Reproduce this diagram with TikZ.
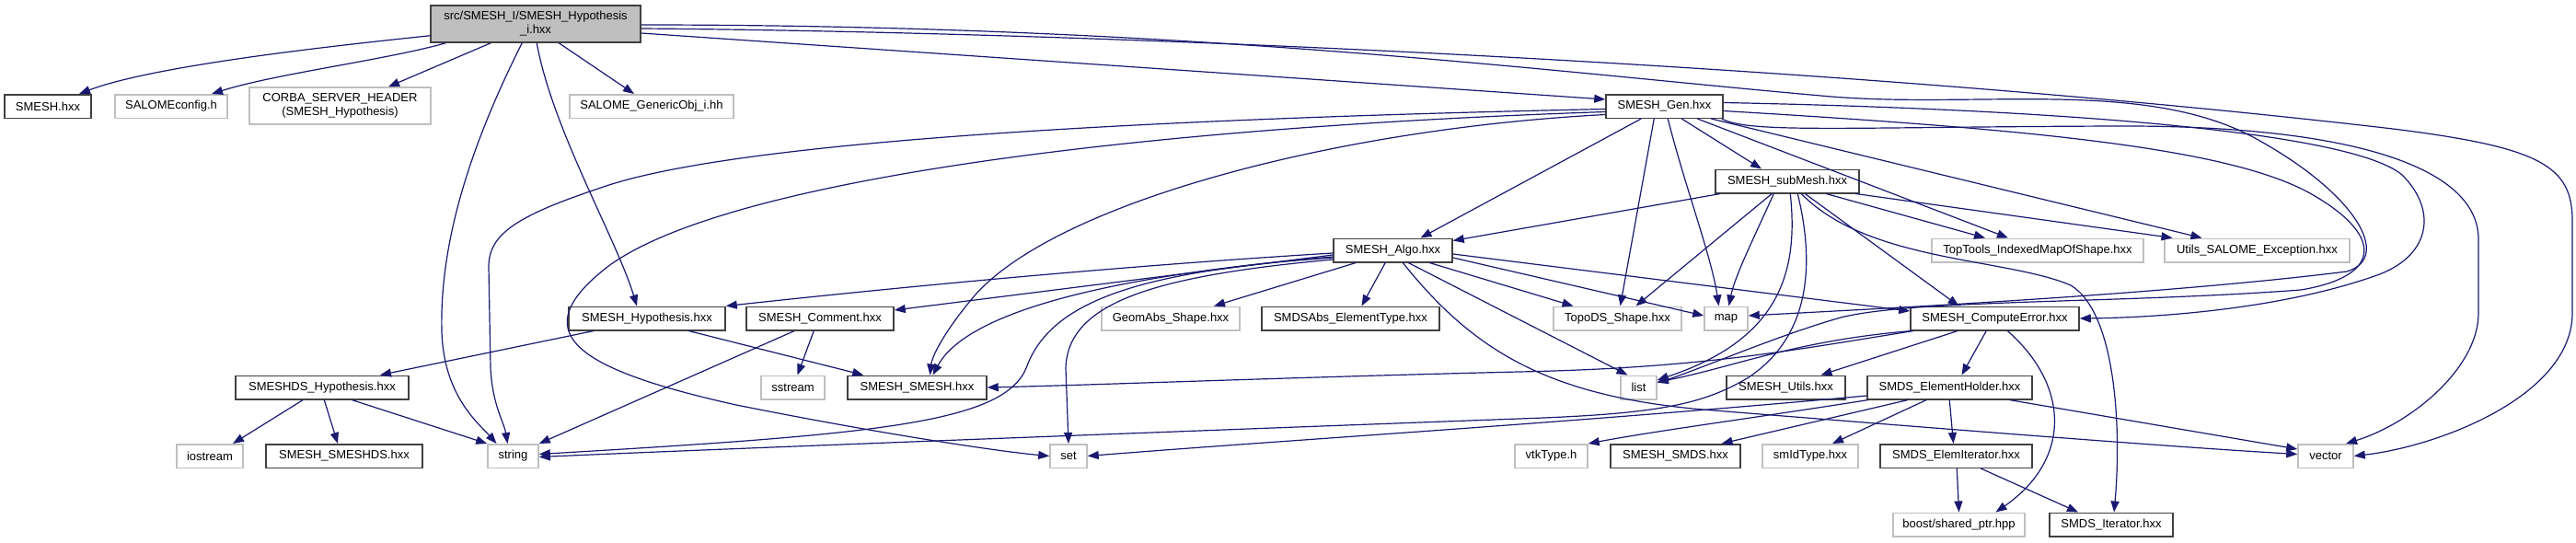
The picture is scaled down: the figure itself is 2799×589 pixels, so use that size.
\documentclass[tikz,border=0pt]{standalone}
\usepackage{fontspec}
\setmainfont{Liberation Sans}
\usetikzlibrary{arrows.meta}
\definecolor{edgec}{HTML}{191970}
\definecolor{grayb}{HTML}{BFBFBF}
\definecolor{darkb}{HTML}{404040}
\newcommand\nfont{\fontsize{13}{15}\selectfont}
\begin{document}
\begin{tikzpicture}[x=1pt,y=-1pt,
  nb/.style={draw=darkb, line width=1.5pt, fill=white, inner sep=0pt, minimum height=25.5pt, align=center, font=\nfont},
  ng/.style={nb, draw=grayb},
  nr/.style={nb, fill=grayb, minimum height=40pt},
  ed/.style={draw=edgec, line width=1.2pt, -{Triangle[length=12pt,width=9pt]}}]
\fill[white] (0,0) rectangle (2799,589);
\useasboundingbox (0,0) rectangle (2799,589);
% nodes
\node[nr, minimum width=228pt] (root) at (582,26) {src/SMESH\_I/SMESH\_Hypothesis\\\_i.hxx};
\node[nb, minimum width=94pt] (smeshhxx) at (52,115.5) {SMESH.hxx};
\node[ng, minimum width=122pt] (salomeconfig) at (186,115.5) {SALOMEconfig.h};
\node[ng, minimum width=197pt, minimum height=40pt] (corba) at (369.5,115) {CORBA\_SERVER\_HEADER\\(SMESH\_Hypothesis)};
\node[ng, minimum width=178pt] (generic) at (708,115.5) {SALOME\_GenericObj\_i.hh};
\node[nb, minimum width=127pt] (gen) at (1808.5,115.5) {SMESH\_Gen.hxx};
\node[nb, minimum width=156pt] (submesh) at (1942,197) {SMESH\_subMesh.hxx};
\node[ng, minimum width=230pt] (toptools) at (2214,272) {TopTools\_IndexedMapOfShape.hxx};
\node[ng, minimum width=201pt] (utils) at (2452.5,272) {Utils\_SALOME\_Exception.hxx};
\node[nb, minimum width=129pt] (algo) at (1513.5,272) {SMESH\_Algo.hxx};
\node[nb, minimum width=170pt] (hypo) at (703,346) {SMESH\_Hypothesis.hxx};
\node[nb, minimum width=160pt] (comment) at (891,346) {SMESH\_Comment.hxx};
\node[ng, minimum width=150pt] (geomabs) at (1272,346) {GeomAbs\_Shape.hxx};
\node[nb, minimum width=193pt] (smdsabs) at (1467.5,346) {SMDSAbs\_ElementType.hxx};
\node[ng, minimum width=139pt] (topods) at (1757.5,346) {TopoDS\_Shape.hxx};
\node[ng, minimum width=47pt] (nmap) at (1875.5,346) {map};
\node[nb, minimum width=183pt] (computeerror) at (2167.5,346) {SMESH\_ComputeError.hxx};
\node[nb, minimum width=188pt] (smeshdshypo) at (350,421) {SMESHDS\_Hypothesis.hxx};
\node[ng, minimum width=69pt] (sstream) at (861.5,421) {sstream};
\node[nb, minimum width=151pt] (smeshsmesh) at (996.5,421) {SMESH\_SMESH.hxx};
\node[ng, minimum width=39pt] (nlist) at (1780.5,421) {list};
\node[nb, minimum width=129pt] (smeshutils) at (1940.5,421) {SMESH\_Utils.hxx};
\node[nb, minimum width=179pt] (elemholder) at (2118.5,421) {SMDS\_ElementHolder.hxx};
\node[ng, minimum width=72pt] (iostream) at (228,495.5) {iostream};
\node[nb, minimum width=170pt] (smeshsmeshds) at (374,495.5) {SMESH\_SMESHDS.hxx};
\node[ng, minimum width=55pt] (nstring) at (557.5,495.5) {string};
\node[ng, minimum width=40pt] (nset) at (1161,495.5) {set};
\node[ng, minimum width=79pt] (vtktype) at (1685.5,495.5) {vtkType.h};
\node[nb, minimum width=141pt] (smeshsmds) at (1820.5,495.5) {SMESH\_SMDS.hxx};
\node[ng, minimum width=104pt] (smidtype) at (1967,495.5) {smIdType.hxx};
\node[nb, minimum width=165pt] (elemiter) at (2125.5,495.5) {SMDS\_ElemIterator.hxx};
\node[ng, minimum width=60pt] (nvector) at (2527,495.5) {vector};
\node[ng, minimum width=143pt] (boost) at (2128.5,570) {boost/shared\_ptr.hpp};
\node[nb, minimum width=134pt] (smdsiter) at (2294,570) {SMDS\_Iterator.hxx};
% root edges
\draw[ed] ([yshift=8pt]root.south west) .. controls (380,48) and (170,70) .. ([xshift=34pt]smeshhxx.north);
\draw[ed] ([xshift=17pt]root.south west) .. controls (420,65) and (300,80) .. ([xshift=44pt]salomeconfig.north);
\draw[ed] ([xshift=66pt]root.south west) -- ([xshift=52.5pt]corba.north);
\draw[ed] ([xshift=140pt]root.south west) -- ([xshift=-19pt]generic.north);
\draw[ed] ([xshift=116pt]root.south west) .. controls (600,140) and (670,260) .. ([xshift=-11pt]hypo.north);
\draw[ed] ([xshift=100pt]root.south west) .. controls (500,180) and (478,280) .. (480,360) .. controls (482,430) and (520,460) .. ([xshift=-18pt]nstring.north);
\draw[ed] ([yshift=-10pt]root.east) -- ([yshift=7.5pt]gen.west);
\draw[ed] ([yshift=-5pt]root.east) .. controls (1200,35) and (2000,70) .. (2600,140) .. controls (2760,160) and (2795,180) .. (2795,240) -- (2795,340) .. controls (2795,430) and (2650,485) .. (nvector.east);
\draw[ed] ([yshift=-1pt]root.east) .. controls (1300,27) and (1700,80) .. (1990,105) .. controls (2150,118) and (2330,85) .. (2450,150) .. controls (2560,210) and (2600,280) .. (2550,295) .. controls (2350,320) and (2050,335) .. ([yshift=3pt]nmap.east);
% gen edges
\draw[ed] ([yshift=-3pt]gen.west) .. controls (1300,128) and (800,150) .. (650,205) .. controls (560,235) and (531,255) .. (531,290) -- (533,400) .. controls (535,440) and (548,460) .. ([xshift=-6pt]nstring.north);
\draw[ed] ([yshift=-6pt]gen.west) .. controls (1200,140) and (780,200) .. (660,290) .. controls (570,360) and (620,400) .. (800,440) .. controls (950,470) and (1080,490) .. (nset.west);
\draw[ed] ([yshift=-9pt]gen.west) .. controls (1450,140) and (1150,220) .. (1060,320) .. controls (1030,355) and (1013,385) .. ([xshift=14pt]smeshsmesh.north);
\draw[ed] ([xshift=39pt]gen.south west) -- ([xshift=30pt]algo.north);
\draw[ed] ([xshift=53pt]gen.south west) -- ([xshift=3pt]topods.north);
\draw[ed] ([xshift=68pt]gen.south west) .. controls (1830,200) and (1860,280) .. ([xshift=-8pt]nmap.north);
\draw[ed] ([xshift=83pt]gen.south west) -- ([xshift=-28pt]submesh.north);
\draw[ed] ([xshift=100pt]gen.south west) -- ([xshift=-32pt]toptools.north);
\draw[ed] ([xshift=115pt]gen.south west) -- ([xshift=-60pt]utils.north);
\draw[ed] ([yshift=4pt]gen.east) .. controls (2200,118) and (2550,140) .. (2610,190) .. controls (2650,230) and (2640,280) .. (2580,300) .. controls (2480,335) and (2350,345) .. (computeerror.east);
\draw[ed] ([xshift=-2pt]gen.south east) .. controls (1900,145) and (2000,138) .. (2300,137) .. controls (2550,136) and (2693,180) .. (2693,260) -- (2693,340) .. controls (2693,400) and (2620,460) .. ([xshift=22pt]nvector.north);
\draw[ed] ([yshift=-5pt]gen.east) .. controls (2200,140) and (2420,160) .. (2510,210) .. controls (2590,255) and (2590,300) .. (2500,315) .. controls (2300,330) and (2080,325) .. (2000,345) .. controls (1930,365) and (1850,400) .. ([yshift=5pt]nlist.east);
% submesh edges
\draw[ed] ([xshift=6pt]submesh.south west) -- ([yshift=-3pt]algo.north east);
\draw[ed] ([xshift=62pt]submesh.south west) -- ([xshift=20pt]topods.north);
\draw[ed] ([xshift=64pt]submesh.south west) .. controls (1905,260) and (1885,300) .. ([xshift=3pt]nmap.north);
\draw[ed] ([xshift=82pt]submesh.south west) .. controls (1955,300) and (1930,370) .. ([yshift=8pt]nlist.east);
\draw[ed] ([xshift=90pt]submesh.south west) .. controls (1975,300) and (1960,370) .. (1900,410) .. controls (1850,440) and (1800,450) .. (1650,455) .. controls (1300,468) and (800,487) .. ([yshift=-1pt]nstring.east);
\draw[ed] ([xshift=98pt]submesh.south west) -- ([xshift=-39pt]computeerror.north);
\draw[ed] ([xshift=94pt]submesh.south west) .. controls (2030,285) and (2180,280) .. (2250,310) .. controls (2300,340) and (2305,470) .. ([xshift=3pt]smdsiter.north);
\draw[ed] ([xshift=121pt]submesh.south west) -- ([xshift=-57pt]toptools.north);
\draw[ed] ([xshift=153pt]submesh.south west) -- ([xshift=-92pt]utils.north);
% algo edges
\draw[ed] ([yshift=-3pt]algo.west) .. controls (1200,290) and (950,315) .. (hypo.north east);
\draw[ed] ([yshift=-5pt]algo.west) -- ([yshift=9pt]comment.east);
\draw[ed] ([yshift=-7pt]algo.west) .. controls (1200,300) and (1050,340) .. ([xshift=17pt]smeshsmesh.north);
\draw[ed] ([yshift=-8pt]algo.west) .. controls (1230,295) and (1140,330) .. (1115,400) .. controls (1090,460) and (950,472) .. ([yshift=2pt]nstring.east);
\draw[ed] ([yshift=-10pt]algo.west) .. controls (1250,300) and (1160,330) .. (1158,400) -- (nset.north);
\draw[ed] ([xshift=25pt]algo.south west) -- ([xshift=47pt]geomabs.north);
\draw[ed] ([xshift=57pt]algo.south west) -- ([xshift=12pt]smdsabs.north);
\draw[ed] ([xshift=105pt]algo.south west) -- ([xshift=-48pt]topods.north);
\draw[ed] ([yshift=-8pt]algo.east) -- ([yshift=3pt]nmap.west);
\draw[ed] ([yshift=-4pt]algo.east) -- ([yshift=8pt]computeerror.west);
\draw[ed] ([xshift=82pt]algo.south west) -- ([xshift=-12pt]nlist.north);
\draw[ed] ([xshift=76pt]algo.south west) .. controls (1600,380) and (1680,430) .. (1850,445) .. controls (2100,465) and (2350,485) .. ([yshift=2pt]nvector.west);
% hypothesis, comment, smeshds
\draw[ed] ([xshift=28pt]hypo.south west) -- ([xshift=63pt]smeshdshypo.north);
\draw[ed] ([xshift=131pt]hypo.south west) -- ([xshift=18pt]smeshsmesh.north west);
\draw[ed] ([xshift=53pt]comment.south west) -- (nstring.north east);
\draw[ed] ([xshift=74pt]comment.south west) -- ([xshift=5pt]sstream.north);
\draw[ed] ([xshift=74pt]smeshdshypo.south west) -- ([xshift=25pt]iostream.north);
\draw[ed] ([xshift=97pt]smeshdshypo.south west) -- ([xshift=-7pt]smeshsmeshds.north);
\draw[ed] ([xshift=127pt]smeshdshypo.south west) -- (nstring.north west);
% compute error
\draw[ed] ([xshift=2pt]computeerror.south west) .. controls (1950,370) and (1880,400) .. ([yshift=6pt]nlist.east);
\draw[ed] ([xshift=4pt]computeerror.south west) .. controls (1950,380) and (1850,400) .. (1650,404) .. controls (1400,410) and (1200,418) .. (smeshsmesh.east);
\draw[ed] ([xshift=52pt]computeerror.south west) -- ([xshift=38pt]smeshutils.north);
\draw[ed] ([xshift=83pt]computeerror.south west) -- ([xshift=13pt]elemholder.north);
\draw[ed] ([xshift=106pt]computeerror.south west) .. controls (2250,420) and (2250,500) .. ([xshift=40pt]boost.north);
% element holder
\draw[ed] ([yshift=-9pt]elemholder.west) .. controls (1700,460) and (1400,478) .. (nset.east);
\draw[ed] ([xshift=2pt]elemholder.south west) .. controls (1900,455) and (1800,468) .. (vtktype.north east);
\draw[ed] ([xshift=45pt]elemholder.south west) -- ([xshift=50pt]smeshsmds.north);
\draw[ed] ([xshift=65pt]elemholder.south west) -- ([xshift=24pt]smidtype.north);
\draw[ed] ([xshift=90pt]elemholder.south west) -- ([xshift=-3pt]elemiter.north);
\draw[ed] ([xshift=155pt]elemholder.south west) -- ([yshift=-6pt]nvector.north west);
\draw[ed] ([xshift=84pt]elemiter.south west) -- (boost.north);
\draw[ed] ([xshift=110pt]elemiter.south west) -- ([xshift=-36pt]smdsiter.north);
\end{tikzpicture}
\end{document}
